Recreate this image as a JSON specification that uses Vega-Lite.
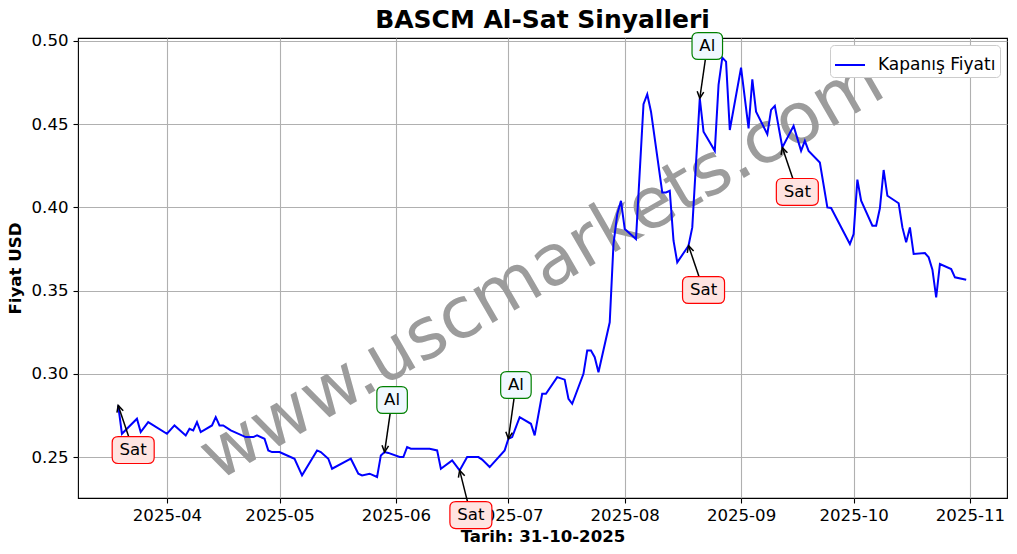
{
  "$schema": "https://vega.github.io/schema/vega-lite/v6.json",
  "width": 929,
  "height": 460,
  "autosize": "none",
  "padding": {"left": 78, "top": 38, "right": 10, "bottom": 56},
  "background": "white",
  "title": {"text": "BASCM Al-Sat Sinyalleri", "fontSize": 25, "fontWeight": "bold", "anchor": "middle", "frame": "group", "offset": -3, "color": "black", "font": "DejaVu Sans"},
  "config": {
    "font": "DejaVu Sans",
    "view": {"stroke": "black", "strokeWidth": 1.1},
    "axis": {"labelFont": "DejaVu Sans", "labelFontSize": 16.6, "labelColor": "black", "tickColor": "black", "tickSize": 5, "tickWidth": 1.1, "domain": false, "gridColor": "#b0b0b0", "gridWidth": 1.1, "titleFont": "DejaVu Sans", "titleFontSize": 16.6, "titleFontWeight": "bold", "titleColor": "black", "labelPadding": 4},
    "legend": {"labelFont": "DejaVu Sans", "labelFontSize": 17, "labelColor": "black"}
  },
  "layer": [
    {
      "data": {"values": [{"date": "2025-07-10", "price": 0.3624, "wm": "www.uscmarkets.com"}]},
      "mark": {"type": "text", "fontSize": 71, "angle": 330, "align": "center", "baseline": "middle", "color": "#9c9c9c", "font": "DejaVu Sans"},
      "encoding": {
        "x": {"field": "date", "type": "temporal", "scale": {"type": "utc", "domain": [{"year": 2025, "month": 3, "date": 8, "hours": 7, "utc": true}, {"year": 2025, "month": 11, "date": 10, "hours": 21, "utc": true}]},
          "axis": {"title": "Tarih: 31-10-2025", "labelExpr": "utcFormat(datum.value, '%Y-%m')", "titlePadding": 5, "values": [
            {"year": 2025, "month": 4, "date": 1, "utc": true},
            {"year": 2025, "month": 5, "date": 1, "utc": true},
            {"year": 2025, "month": 6, "date": 1, "utc": true},
            {"year": 2025, "month": 7, "date": 1, "utc": true},
            {"year": 2025, "month": 8, "date": 1, "utc": true},
            {"year": 2025, "month": 9, "date": 1, "utc": true},
            {"year": 2025, "month": 10, "date": 1, "utc": true},
            {"year": 2025, "month": 11, "date": 1, "utc": true}
          ]}},
        "y": {"field": "price", "type": "quantitative", "scale": {"domain": [0.2254, 0.5018], "zero": false, "nice": false},
          "axis": {"title": "Fiyat USD", "format": ".2f", "values": [0.25, 0.3, 0.35, 0.4, 0.45, 0.5], "labelPadding": 5, "titlePadding": 8}},
        "text": {"field": "wm"}
      }
    },
    {
      "data": {"values": [
        {"date": "2025-03-19", "price": 0.281},
        {"date": "2025-03-20", "price": 0.264},
        {"date": "2025-03-24", "price": 0.273},
        {"date": "2025-03-25", "price": 0.265},
        {"date": "2025-03-27", "price": 0.271},
        {"date": "2025-04-01", "price": 0.264},
        {"date": "2025-04-03", "price": 0.269},
        {"date": "2025-04-06", "price": 0.263},
        {"date": "2025-04-07", "price": 0.267},
        {"date": "2025-04-08", "price": 0.266},
        {"date": "2025-04-09", "price": 0.271},
        {"date": "2025-04-10", "price": 0.265},
        {"date": "2025-04-13", "price": 0.269},
        {"date": "2025-04-14", "price": 0.274},
        {"date": "2025-04-15", "price": 0.269},
        {"date": "2025-04-16", "price": 0.269},
        {"date": "2025-04-18", "price": 0.266},
        {"date": "2025-04-22", "price": 0.262},
        {"date": "2025-04-24", "price": 0.262},
        {"date": "2025-04-25", "price": 0.263},
        {"date": "2025-04-27", "price": 0.261},
        {"date": "2025-04-28", "price": 0.254},
        {"date": "2025-04-29", "price": 0.253},
        {"date": "2025-05-01", "price": 0.253},
        {"date": "2025-05-02", "price": 0.252},
        {"date": "2025-05-05", "price": 0.249},
        {"date": "2025-05-07", "price": 0.239},
        {"date": "2025-05-11", "price": 0.254},
        {"date": "2025-05-12", "price": 0.253},
        {"date": "2025-05-14", "price": 0.249},
        {"date": "2025-05-15", "price": 0.243},
        {"date": "2025-05-20", "price": 0.249},
        {"date": "2025-05-22", "price": 0.240},
        {"date": "2025-05-23", "price": 0.239},
        {"date": "2025-05-25", "price": 0.240},
        {"date": "2025-05-27", "price": 0.238},
        {"date": "2025-05-28", "price": 0.251},
        {"date": "2025-05-29", "price": 0.253},
        {"date": "2025-05-30", "price": 0.2525},
        {"date": "2025-06-02", "price": 0.250},
        {"date": "2025-06-03", "price": 0.250},
        {"date": "2025-06-04", "price": 0.256},
        {"date": "2025-06-05", "price": 0.255},
        {"date": "2025-06-10", "price": 0.255},
        {"date": "2025-06-12", "price": 0.254},
        {"date": "2025-06-13", "price": 0.243},
        {"date": "2025-06-16", "price": 0.248},
        {"date": "2025-06-18", "price": 0.242},
        {"date": "2025-06-20", "price": 0.250},
        {"date": "2025-06-23", "price": 0.250},
        {"date": "2025-06-24", "price": 0.2485},
        {"date": "2025-06-26", "price": 0.244},
        {"date": "2025-06-30", "price": 0.254},
        {"date": "2025-07-01", "price": 0.261},
        {"date": "2025-07-02", "price": 0.262},
        {"date": "2025-07-04", "price": 0.274},
        {"date": "2025-07-07", "price": 0.270},
        {"date": "2025-07-08", "price": 0.263},
        {"date": "2025-07-10", "price": 0.288},
        {"date": "2025-07-11", "price": 0.288},
        {"date": "2025-07-14", "price": 0.298},
        {"date": "2025-07-16", "price": 0.2965},
        {"date": "2025-07-17", "price": 0.285},
        {"date": "2025-07-18", "price": 0.282},
        {"date": "2025-07-21", "price": 0.300},
        {"date": "2025-07-22", "price": 0.314},
        {"date": "2025-07-23", "price": 0.314},
        {"date": "2025-07-24", "price": 0.310},
        {"date": "2025-07-25", "price": 0.301},
        {"date": "2025-07-28", "price": 0.331},
        {"date": "2025-07-29", "price": 0.378},
        {"date": "2025-07-30", "price": 0.396},
        {"date": "2025-07-31", "price": 0.404},
        {"date": "2025-08-01", "price": 0.387},
        {"date": "2025-08-04", "price": 0.381},
        {"date": "2025-08-06", "price": 0.462},
        {"date": "2025-08-07", "price": 0.468},
        {"date": "2025-08-08", "price": 0.4575},
        {"date": "2025-08-11", "price": 0.409},
        {"date": "2025-08-12", "price": 0.409},
        {"date": "2025-08-13", "price": 0.410},
        {"date": "2025-08-14", "price": 0.380},
        {"date": "2025-08-15", "price": 0.367},
        {"date": "2025-08-18", "price": 0.377},
        {"date": "2025-08-19", "price": 0.388},
        {"date": "2025-08-21", "price": 0.4656},
        {"date": "2025-08-22", "price": 0.4455},
        {"date": "2025-08-25", "price": 0.434},
        {"date": "2025-08-26", "price": 0.4736},
        {"date": "2025-08-27", "price": 0.490},
        {"date": "2025-08-28", "price": 0.4876},
        {"date": "2025-08-29", "price": 0.4465},
        {"date": "2025-09-01", "price": 0.484},
        {"date": "2025-09-03", "price": 0.4475},
        {"date": "2025-09-04", "price": 0.477},
        {"date": "2025-09-05", "price": 0.4575},
        {"date": "2025-09-08", "price": 0.444},
        {"date": "2025-09-09", "price": 0.4586},
        {"date": "2025-09-10", "price": 0.461},
        {"date": "2025-09-12", "price": 0.436},
        {"date": "2025-09-15", "price": 0.449},
        {"date": "2025-09-17", "price": 0.434},
        {"date": "2025-09-18", "price": 0.440},
        {"date": "2025-09-19", "price": 0.434},
        {"date": "2025-09-22", "price": 0.427},
        {"date": "2025-09-24", "price": 0.400},
        {"date": "2025-09-25", "price": 0.3997},
        {"date": "2025-09-30", "price": 0.378},
        {"date": "2025-10-01", "price": 0.384},
        {"date": "2025-10-02", "price": 0.4167},
        {"date": "2025-10-03", "price": 0.404},
        {"date": "2025-10-06", "price": 0.389},
        {"date": "2025-10-07", "price": 0.389},
        {"date": "2025-10-08", "price": 0.3995},
        {"date": "2025-10-09", "price": 0.4225},
        {"date": "2025-10-10", "price": 0.407},
        {"date": "2025-10-13", "price": 0.4025},
        {"date": "2025-10-14", "price": 0.388},
        {"date": "2025-10-15", "price": 0.379},
        {"date": "2025-10-16", "price": 0.388},
        {"date": "2025-10-17", "price": 0.372},
        {"date": "2025-10-20", "price": 0.3726},
        {"date": "2025-10-21", "price": 0.370},
        {"date": "2025-10-22", "price": 0.3626},
        {"date": "2025-10-23", "price": 0.346},
        {"date": "2025-10-24", "price": 0.366},
        {"date": "2025-10-27", "price": 0.363},
        {"date": "2025-10-28", "price": 0.358},
        {"date": "2025-10-31", "price": 0.3565}
      ]},
      "mark": {"type": "line", "strokeWidth": 2, "interpolate": "linear"},
      "encoding": {
        "x": {"field": "date", "type": "temporal", "scale": {"type": "utc", "domain": [{"year": 2025, "month": 3, "date": 8, "hours": 7, "utc": true}, {"year": 2025, "month": 11, "date": 10, "hours": 21, "utc": true}]},
          "axis": {"title": "Tarih: 31-10-2025", "labelExpr": "utcFormat(datum.value, '%Y-%m')", "titlePadding": 5, "values": [
            {"year": 2025, "month": 4, "date": 1, "utc": true},
            {"year": 2025, "month": 5, "date": 1, "utc": true},
            {"year": 2025, "month": 6, "date": 1, "utc": true},
            {"year": 2025, "month": 7, "date": 1, "utc": true},
            {"year": 2025, "month": 8, "date": 1, "utc": true},
            {"year": 2025, "month": 9, "date": 1, "utc": true},
            {"year": 2025, "month": 10, "date": 1, "utc": true},
            {"year": 2025, "month": 11, "date": 1, "utc": true}
          ]}},
        "y": {"field": "price", "type": "quantitative", "scale": {"domain": [0.2254, 0.5018], "zero": false, "nice": false},
          "axis": {"title": "Fiyat USD", "format": ".2f", "values": [0.25, 0.3, 0.35, 0.4, 0.45, 0.5], "labelPadding": 5, "titlePadding": 8}},
        "color": {"datum": "Kapanış Fiyatı", "type": "nominal", "scale": {"range": ["#0000ff"]},
          "legend": {"title": null, "orient": "top-right", "offset": 7, "symbolType": "stroke", "symbolSize": 900, "symbolStrokeWidth": 2, "strokeColor": "#cccccc", "fillColor": "white", "cornerRadius": 4, "padding": 4, "labelOffset": 12}}
      }
    },
    {
      "data": {"name": "signals", "values": [
        {"date": "2025-03-19", "price": 0.281, "ldate": "2025-03-23", "lprice": 0.2542, "type": "Sat"},
        {"date": "2025-05-29", "price": 0.253, "ldate": "2025-05-31", "lprice": 0.2843, "type": "Al"},
        {"date": "2025-06-18", "price": 0.242, "ldate": "2025-06-21", "lprice": 0.2151, "type": "Sat"},
        {"date": "2025-07-01", "price": 0.261, "ldate": "2025-07-03", "lprice": 0.2933, "type": "Al"},
        {"date": "2025-08-18", "price": 0.377, "ldate": "2025-08-22", "lprice": 0.3504, "type": "Sat"},
        {"date": "2025-08-21", "price": 0.4656, "ldate": "2025-08-23", "lprice": 0.497, "type": "Al"},
        {"date": "2025-09-12", "price": 0.436, "ldate": "2025-09-16", "lprice": 0.4093, "type": "Sat"}
      ]},
      "layer": [
        {
          "mark": {"type": "rule", "color": "black", "strokeWidth": 1.5},
          "encoding": {
            "x": {"field": "date", "type": "temporal", "scale": {"type": "utc", "domain": [{"year": 2025, "month": 3, "date": 8, "hours": 7, "utc": true}, {"year": 2025, "month": 11, "date": 10, "hours": 21, "utc": true}]},
              "axis": {"title": "Tarih: 31-10-2025", "labelExpr": "utcFormat(datum.value, '%Y-%m')", "titlePadding": 5, "values": [
                {"year": 2025, "month": 4, "date": 1, "utc": true},
                {"year": 2025, "month": 5, "date": 1, "utc": true},
                {"year": 2025, "month": 6, "date": 1, "utc": true},
                {"year": 2025, "month": 7, "date": 1, "utc": true},
                {"year": 2025, "month": 8, "date": 1, "utc": true},
                {"year": 2025, "month": 9, "date": 1, "utc": true},
                {"year": 2025, "month": 10, "date": 1, "utc": true},
                {"year": 2025, "month": 11, "date": 1, "utc": true}
              ]}},
            "y": {"field": "price", "type": "quantitative", "scale": {"domain": [0.2254, 0.5018], "zero": false, "nice": false},
              "axis": {"title": "Fiyat USD", "format": ".2f", "values": [0.25, 0.3, 0.35, 0.4, 0.45, 0.5], "labelPadding": 5, "titlePadding": 8}},
            "x2": {"field": "ldate"},
            "y2": {"field": "lprice"}
          }
        },
        {
          "mark": {"type": "point", "filled": false, "color": "black", "strokeWidth": 1.5, "opacity": 1, "size": 174, "shape": "M-0.5,1 L0,0 L0.5,1"},
          "encoding": {
            "x": {"field": "date", "type": "temporal", "scale": {"type": "utc", "domain": [{"year": 2025, "month": 3, "date": 8, "hours": 7, "utc": true}, {"year": 2025, "month": 11, "date": 10, "hours": 21, "utc": true}]},
              "axis": {"title": "Tarih: 31-10-2025", "labelExpr": "utcFormat(datum.value, '%Y-%m')", "titlePadding": 5, "values": [
                {"year": 2025, "month": 4, "date": 1, "utc": true},
                {"year": 2025, "month": 5, "date": 1, "utc": true},
                {"year": 2025, "month": 6, "date": 1, "utc": true},
                {"year": 2025, "month": 7, "date": 1, "utc": true},
                {"year": 2025, "month": 8, "date": 1, "utc": true},
                {"year": 2025, "month": 9, "date": 1, "utc": true},
                {"year": 2025, "month": 10, "date": 1, "utc": true},
                {"year": 2025, "month": 11, "date": 1, "utc": true}
              ]}},
            "y": {"field": "price", "type": "quantitative", "scale": {"domain": [0.2254, 0.5018], "zero": false, "nice": false},
              "axis": {"title": "Fiyat USD", "format": ".2f", "values": [0.25, 0.3, 0.35, 0.4, 0.45, 0.5], "labelPadding": 5, "titlePadding": 8}},
            "angle": {"condition": {"test": "datum.type === 'Al'", "value": 186}, "value": 343}
          }
        },
        {
          "mark": {"type": "point", "filled": true, "opacity": 1, "size": 784, "strokeWidth": 1.2},
          "encoding": {
            "x": {"field": "ldate", "type": "temporal", "scale": {"type": "utc", "domain": [{"year": 2025, "month": 3, "date": 8, "hours": 7, "utc": true}, {"year": 2025, "month": 11, "date": 10, "hours": 21, "utc": true}]},
              "axis": {"title": "Tarih: 31-10-2025", "labelExpr": "utcFormat(datum.value, '%Y-%m')", "titlePadding": 5, "values": [
                {"year": 2025, "month": 4, "date": 1, "utc": true},
                {"year": 2025, "month": 5, "date": 1, "utc": true},
                {"year": 2025, "month": 6, "date": 1, "utc": true},
                {"year": 2025, "month": 7, "date": 1, "utc": true},
                {"year": 2025, "month": 8, "date": 1, "utc": true},
                {"year": 2025, "month": 9, "date": 1, "utc": true},
                {"year": 2025, "month": 10, "date": 1, "utc": true},
                {"year": 2025, "month": 11, "date": 1, "utc": true}
              ]}},
            "y": {"field": "lprice", "type": "quantitative", "scale": {"domain": [0.2254, 0.5018], "zero": false, "nice": false},
              "axis": {"title": "Fiyat USD", "format": ".2f", "values": [0.25, 0.3, 0.35, 0.4, 0.45, 0.5], "labelPadding": 5, "titlePadding": 8}},
            "shape": {"condition": {"test": "datum.type === 'Sat'", "value": "M-1.07,-0.96 L1.07,-0.96 Q1.5,-0.96 1.5,-0.53 L1.5,0.53 Q1.5,0.96 1.07,0.96 L-1.07,0.96 Q-1.5,0.96 -1.5,0.53 L-1.5,-0.53 Q-1.5,-0.96 -1.07,-0.96 Z"}, "value": "M-0.66,-0.96 L0.66,-0.96 Q1.09,-0.96 1.09,-0.53 L1.09,0.53 Q1.09,0.96 0.66,0.96 L-0.66,0.96 Q-1.09,0.96 -1.09,0.53 L-1.09,-0.53 Q-1.09,-0.96 -0.66,-0.96 Z"},
            "fill": {"condition": {"test": "datum.type === 'Sat'", "value": "#ffe4e1"}, "value": "#f0f8ff"},
            "stroke": {"condition": {"test": "datum.type === 'Sat'", "value": "#ff0000"}, "value": "#008000"}
          }
        },
        {
          "mark": {"type": "text", "fontSize": 16.6, "align": "center", "baseline": "middle", "color": "black", "font": "DejaVu Sans"},
          "encoding": {
            "x": {"field": "ldate", "type": "temporal", "scale": {"type": "utc", "domain": [{"year": 2025, "month": 3, "date": 8, "hours": 7, "utc": true}, {"year": 2025, "month": 11, "date": 10, "hours": 21, "utc": true}]},
              "axis": {"title": "Tarih: 31-10-2025", "labelExpr": "utcFormat(datum.value, '%Y-%m')", "titlePadding": 5, "values": [
                {"year": 2025, "month": 4, "date": 1, "utc": true},
                {"year": 2025, "month": 5, "date": 1, "utc": true},
                {"year": 2025, "month": 6, "date": 1, "utc": true},
                {"year": 2025, "month": 7, "date": 1, "utc": true},
                {"year": 2025, "month": 8, "date": 1, "utc": true},
                {"year": 2025, "month": 9, "date": 1, "utc": true},
                {"year": 2025, "month": 10, "date": 1, "utc": true},
                {"year": 2025, "month": 11, "date": 1, "utc": true}
              ]}},
            "y": {"field": "lprice", "type": "quantitative", "scale": {"domain": [0.2254, 0.5018], "zero": false, "nice": false},
              "axis": {"title": "Fiyat USD", "format": ".2f", "values": [0.25, 0.3, 0.35, 0.4, 0.45, 0.5], "labelPadding": 5, "titlePadding": 8}},
            "text": {"field": "type"}
          }
        }
      ]
    }
  ]
}
